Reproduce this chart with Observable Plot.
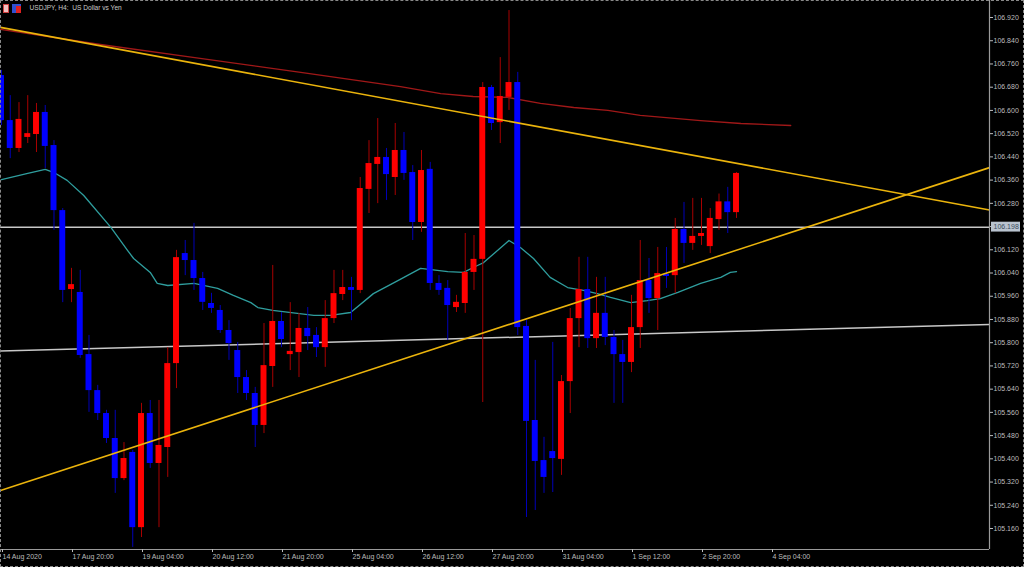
<!DOCTYPE html>
<html><head><meta charset="utf-8">
<script src="https://cdn.jsdelivr.net/npm/d3@7"></script>
<script src="https://cdn.jsdelivr.net/npm/@observablehq/plot@0.6"></script>
<style>
html,body{margin:0;padding:0;background:#000;}
#wrap{position:relative;width:1024px;height:567px;overflow:hidden;background:#000;}
#border{position:absolute;left:0;top:0;width:1024px;height:567px;box-sizing:border-box;border:1px dashed #8a8a8a;pointer-events:none;}
.ic{position:absolute;}
</style>
</head><body>
<div id="wrap">
  <div class="ic" style="left:3px;top:4px;width:6px;height:9px;background:#f0c0c0;border:1px solid #d04040;box-sizing:border-box;"></div>
  <div class="ic" style="left:12px;top:4px;width:9px;height:9px;background:#3050d0;"></div>
  <div class="ic" style="left:16px;top:6px;width:5px;height:7px;background:#e02020;"></div>
  <div id="border"></div>
</div>
<script>
// ---- data (H4 bars, index 0 = 14 Aug 2020 12:00) ----
const barIdx = d3.range(0, 85);
const open  = [106.720,106.565,106.469,106.507,106.517,106.593,106.479,106.255,105.983,105.973,
               105.759,105.635,105.556,105.470,105.332,105.422,105.163,105.556,105.384,105.439,
               105.728,106.107,106.083,106.021,105.935,105.911,105.842,105.773,105.680,105.625,
               105.515,105.718,105.873,105.759,105.766,105.849,105.825,105.783,105.883,105.966,
               105.990,105.980,106.328,106.414,106.438,106.369,106.462,106.386,106.214,106.397,
               106.004,105.987,105.921,105.935,106.042,106.087,106.679,106.558,106.645,106.696,
               105.856,105.532,105.394,105.425,105.398,105.666,105.883,105.983,105.814,105.901,
               105.818,105.759,105.732,105.852,106.014,105.952,106.035,106.031,106.190,106.142,
               106.166,106.131,106.224,106.285,106.248];
const high  = [106.738,106.651,106.627,106.651,106.624,106.617,106.496,106.262,106.056,106.049,
               105.825,105.653,105.567,105.567,105.456,105.429,105.591,105.601,105.601,105.783,
               106.118,106.152,106.211,106.042,105.970,105.928,105.876,105.801,105.704,105.646,
               105.866,106.066,105.904,105.938,105.901,105.921,105.852,105.945,106.049,106.049,
               106.025,106.369,106.496,106.572,106.469,106.555,106.524,106.410,106.462,106.421,
               106.031,106.014,105.963,106.176,106.169,106.696,106.686,106.782,106.944,106.731,
               105.876,105.739,105.474,105.801,105.687,105.918,106.094,106.094,106.025,106.025,
               105.842,105.808,105.963,106.152,106.090,106.128,106.128,106.228,106.283,106.297,
               106.297,106.262,106.312,106.335,106.386];
const low   = [106.548,106.434,106.455,106.486,106.455,106.400,106.187,105.938,105.938,105.746,
               105.560,105.532,105.453,105.281,105.325,105.095,105.129,105.367,105.163,105.336,
               105.642,106.031,105.980,105.911,105.901,105.832,105.739,105.625,105.601,105.439,
               105.487,105.646,105.783,105.704,105.680,105.773,105.749,105.715,105.866,105.945,
               105.876,105.969,106.245,106.279,106.290,106.307,106.359,106.152,106.180,105.980,
               105.963,105.808,105.904,105.901,105.980,105.594,106.531,106.486,106.600,105.825,
               105.198,105.222,105.281,105.284,105.343,105.556,105.783,105.780,105.780,105.790,
               105.591,105.591,105.697,105.780,105.901,105.842,105.987,105.969,106.073,106.118,
               106.135,106.107,106.187,106.176,106.228];
const close = [106.565,106.469,106.569,106.520,106.593,106.476,106.255,105.980,106.000,105.756,
               105.635,105.556,105.470,105.332,105.401,105.163,105.556,105.384,105.446,105.728,
               106.093,106.083,106.021,105.939,105.918,105.842,105.797,105.680,105.625,105.515,
               105.721,105.873,105.811,105.770,105.849,105.821,105.783,105.883,105.969,105.990,
               105.980,106.331,106.417,106.438,106.379,106.462,106.383,106.214,106.393,106.004,
               105.980,105.928,105.939,106.042,106.087,106.679,106.555,106.648,106.696,105.852,
               105.529,105.391,105.336,105.401,105.666,105.883,105.983,105.814,105.901,105.818,
               105.759,105.732,105.852,106.014,105.952,106.038,106.028,106.190,106.142,106.166,
               106.176,106.228,106.285,106.248,106.383];

// fast moving average (teal)
const fastMaIdx = [0,3,5,6,7.5,9.4,12.5,14.4,15.1,17,17.8,19,22,24.7,26.5,28.5,29.3,31,35.7,37.6,39.9,42.5,45.3,47.9,51,52.8,54.4,55.1,58,59.3,60.8,62.7,64.7,66.5,68.1,69.6,71.9,73.8,75.3,77.3,79.9,82.2,83.3,84];
const fastMaVal = [106.362,106.383,106.397,106.386,106.359,106.307,106.197,106.118,106.090,106.042,106.004,105.997,106.004,105.987,105.963,105.938,105.921,105.911,105.894,105.894,105.904,105.969,106.014,106.056,106.045,106.042,106.066,106.076,106.152,106.128,106.090,106.025,105.990,105.980,105.969,105.956,105.938,105.945,105.952,105.973,106.004,106.025,106.042,106.045];
// slow, shifted moving average (dark red)
const slowMaIdx = [-0.114,11.3,22.7,34.2,45.6,50.2,53.9,57.8,61.6,65.4,69.3,73,79.9,84.5,90.2];
const slowMaVal = [106.879,106.827,106.779,106.731,106.682,106.658,106.648,106.645,106.624,106.610,106.600,106.583,106.565,106.555,106.548];

// drawn objects
const goldLineStart = [[-0.114,106.886],[-0.114,105.291]];
const goldLineEnd   = [[112.914,106.257],[112.914,106.403]];
const silverLineStart = [-0.114,105.771];
const silverLineEnd   = [112.914,105.863];
const hLevel = 106.198;

// axis ticks
const priceTicks = d3.range(0, 23).map(k => +(105.160 + k*0.08).toFixed(3));
const timeTickIdx = [0,8,16,24,32,40,48,56,64,72,80,88];
const timeTickLabels = ["14 Aug 2020","17 Aug 20:00","19 Aug 04:00","20 Aug 12:00","21 Aug 20:00","25 Aug 04:00","26 Aug 12:00","27 Aug 20:00","31 Aug 04:00","1 Sep 12:00","2 Sep 20:00","4 Sep 04:00"];
const title = "USDJPY, H4:  US Dollar vs Yen";

// ---- build ----
const bars = barIdx.map((i,k) => ({i, o:open[k], h:high[k], l:low[k], c:close[k]}));
const upBars = bars.filter(d => d.c >= d.o);
const dnBars = bars.filter(d => d.c < d.o);
const fastMa = fastMaIdx.map((i,k) => ({i, v:fastMaVal[k]}));
const slowMa = slowMaIdx.map((i,k) => ({i, v:slowMaVal[k]}));
const goldLines = goldLineStart.map((s,k) => ({i1:s[0], p1:s[1], i2:goldLineEnd[k][0], p2:goldLineEnd[k][1]}));
const silverLines = [{i1:silverLineStart[0], p1:silverLineStart[1], i2:silverLineEnd[0], p2:silverLineEnd[1]}];
const tickLabel = new Map(timeTickIdx.map((d,k) => [d, timeTickLabels[k]]));

const X0 = -0.114, X1 = 112.914;
const Y0 = 105.0877, Y1 = 106.9786;
const bw = 0.34;
const font = "Liberation Sans, Arial, sans-serif";

const chart = Plot.plot({
  width: 1024, height: 567,
  marginTop: 0, marginLeft: 0, marginRight: 35, marginBottom: 18,
  style: {background: "transparent", color: "#bdbdbd", fontFamily: font, fontSize: "7px"},
  x: {domain: [X0, X1], axis: null},
  y: {domain: [Y0, Y1], axis: null},
  marks: [
    Plot.ruleY([hLevel], {stroke: "#c8c8c8", strokeWidth: 1.5}),
    Plot.link(silverLines, {x1: "i1", y1: "p1", x2: "i2", y2: "p2", stroke: "#c8c8c8", strokeWidth: 1.5}),
    Plot.line(slowMa, {x: "i", y: "v", stroke: "#a01818", strokeWidth: 1.3}),
    Plot.line(fastMa, {x: "i", y: "v", stroke: "#2f9e9e", strokeWidth: 1.3}),
    Plot.ruleX(upBars, {x: "i", y1: "l", y2: "h", stroke: "#a80000", strokeWidth: 1}),
    Plot.ruleX(dnBars, {x: "i", y1: "l", y2: "h", stroke: "#0000b8", strokeWidth: 1}),
    Plot.rect(upBars, {x1: d => d.i - bw, x2: d => d.i + bw, y1: "o", y2: "c", fill: "#ff0000"}),
    Plot.rect(dnBars, {x1: d => d.i - bw, x2: d => d.i + bw, y1: "o", y2: "c", fill: "#0000ff"}),
    Plot.link(goldLines, {x1: "i1", y1: "p1", x2: "i2", y2: "p2", stroke: "#ebb40c", strokeWidth: 1.6}),
    Plot.ruleY([Y0], {stroke: "#9a9a9a", strokeWidth: 1.2}),
    Plot.ruleX([X1], {stroke: "#9a9a9a", strokeWidth: 1.2}),
    Plot.axisY(priceTicks, {anchor: "right", tickSize: 3, tickPadding: 1, tickFormat: d => d.toFixed(3), fontSize: 7}),
    Plot.axisX(timeTickIdx, {anchor: "bottom", tickSize: 3, tickPadding: 2, tickFormat: d => tickLabel.get(d), textAnchor: "start", dx: 1, fontSize: 7}),
    Plot.rect([hLevel], {x1: X1 + 2/8.75, x2: X1 + 31/8.75, y1: d => d - 0.017, y2: d => d + 0.017, fill: "#b9c3cf"}),
    Plot.text([hLevel], {x: X1, y: d => d, dx: 4, textAnchor: "start", text: d => d.toFixed(3), fill: "#3b4b5e", fontSize: 7}),
    Plot.text([title], {frameAnchor: "top-left", dx: 29, dy: 5, lineAnchor: "top", textAnchor: "start", fill: "#c8c8c8", fontSize: 6.6})
  ]
});
chart.style.position = "absolute";
chart.style.left = "0";
chart.style.top = "0";
document.getElementById("wrap").insertBefore(chart, document.getElementById("border"));
</script>
</body></html>
